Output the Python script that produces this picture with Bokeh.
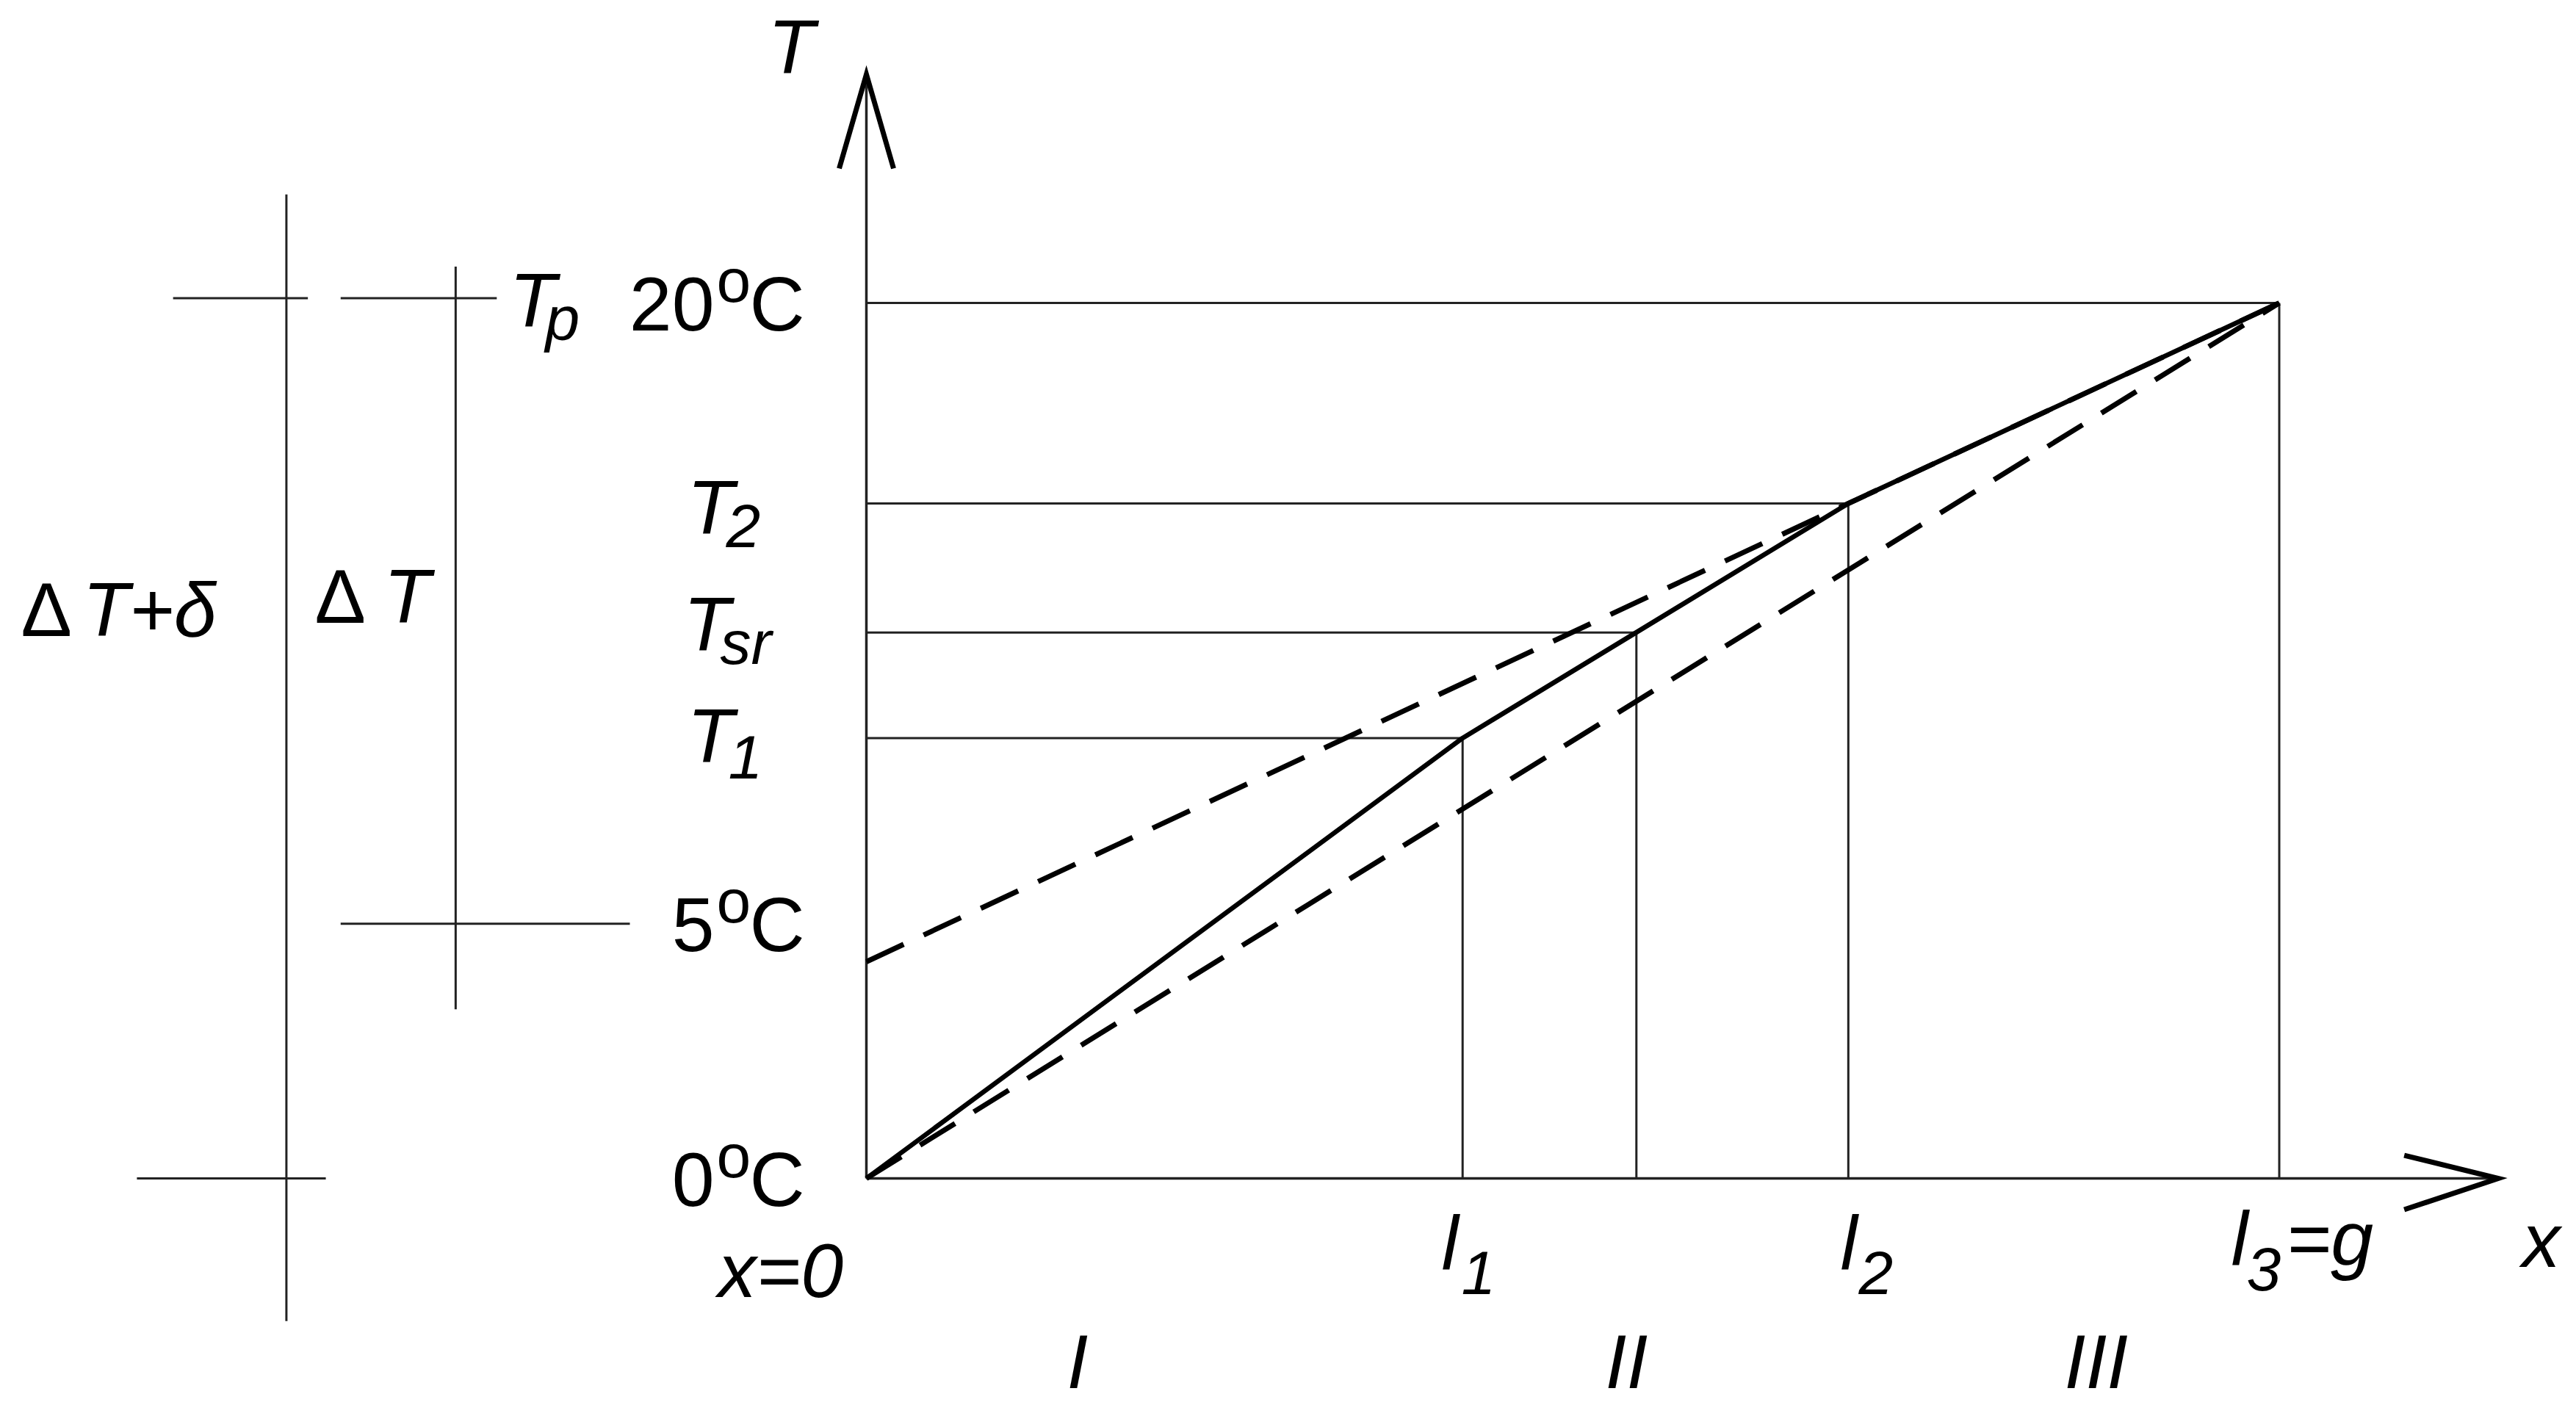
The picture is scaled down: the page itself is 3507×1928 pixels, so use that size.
from bokeh.plotting import figure
from bokeh.models import ColumnDataSource, Range1d
from bokeh.embed import file_html
from bokeh.resources import INLINE
from bokeh.core.properties import value

# ---------------- data (diagram units: x with l3 = 10, T in drawing degrees) -------------
l_names = ["l1", "lsr", "l2", "l3"]
l_pos = [4.22, 5.45, 6.95, 10.0]           # l1, x(Tsr), l2, l3=g
T_names = ["T1", "Tsr", "T2", "Tp"]
T_levels = [10.06, 12.47, 15.42, 20.0]     # T1, Tsr, T2, 20 degC

solid_x = [0.0, 4.22, 6.95, 10.0]
solid_T = [0.0, 10.06, 15.42, 20.0]
upper_x = [0.0, 6.95, 10.0]
upper_T = [4.95, 15.42, 20.0]
lower_x = [0.0, 10.0]
lower_T = [0.0, 20.0]

axis_x_end = 11.55
axis_T_end = 25.22
T_5C = 5.82

outer_x = -4.105
outer_T = [22.48, -3.26]
outer_ticks_T = [20.11, 0.0]
outer_ticks_x0 = [-4.907, -5.163]
outer_ticks_x1 = [-3.953, -3.826]
inner_x = -2.907
inner_T = [20.83, 3.865]
inner_ticks_T = [20.11, T_5C]
inner_ticks_x0 = [-3.721, -3.721]
inner_ticks_x1 = [-2.616, -1.674]

# ---------------- layout helpers (picture-pixel -> diagram units) ----------------------
OX, OY = 1179.0, 1604.0      # origin in picture pixels
SX, ST = 192.35, 59.6        # pixels per unit
W, H = 3491, 1912


def fx(X):
    return (X - OX) / SX


def fy(Y):
    return (OY - Y) / ST


def ly(T):  # picture pixel y of a diagram T value
    return OY - T * ST


p = figure(width=W, height=H, output_backend="svg", toolbar_location=None,
           x_range=Range1d(fx(0), fx(W)), y_range=Range1d(fy(H), fy(0)),
           x_axis_type=None, y_axis_type=None, min_border=0,
           outline_line_color=None, background_fill_color="white")
p.grid.visible = False

THIN = "#222222"

# reference lines
hx = [[0.0, xm] for xm in l_pos]
hy = [[tm, tm] for tm in T_levels]
vx = [[xm, xm] for xm in l_pos]
vy = [[0.0, tm] for tm in T_levels]
p.multi_line(hx + vx, hy + vy, line_color=THIN, line_width=3)

# axes
p.multi_line([[0, 0], [0, axis_x_end]], [[0, axis_T_end], [0, 0]], line_color=THIN, line_width=3.5)

# arrow heads (open V)
ah_len, ah_half = 128.0, 37.0
p.line([0 - ah_half / SX, 0, 0 + ah_half / SX],
       [axis_T_end - ah_len / ST, axis_T_end, axis_T_end - ah_len / ST],
       line_color="black", line_width=7, line_join="miter")
p.line([axis_x_end - ah_len / SX, axis_x_end, axis_x_end - ah_len / SX],
       [ah_half / ST * 0.85, 0, -ah_half / ST * 1.15],
       line_color="black", line_width=7, line_join="miter")

# left brackets
p.multi_line([[outer_x, outer_x]] + [[a, b] for a, b in zip(outer_ticks_x0, outer_ticks_x1)],
             [outer_T] + [[t, t] for t in outer_ticks_T], line_color=THIN, line_width=3)
p.multi_line([[inner_x, inner_x]] + [[a, b] for a, b in zip(inner_ticks_x0, inner_ticks_x1)],
             [inner_T] + [[t, t] for t in inner_ticks_T], line_color=THIN, line_width=3)

# curves
p.line(lower_x, lower_T, line_color="black", line_width=7, line_dash="56 30")
p.line(upper_x, upper_T, line_color="black", line_width=7, line_dash="56 30")
p.line(solid_x, solid_T, line_color="black", line_width=6.5)

# ---------------- texts ----------------
FONT = value("Liberation Sans")


def put(items, size, style="normal", align="left", font=FONT):
    # items: (left x, baseline y) in picture pixels; drawn with middle baseline
    xs = [fx(a) for a, b, t in items]
    ys = [fy(b - 0.35 * size) for a, b, t in items]
    ts = [t for a, b, t in items]
    src = ColumnDataSource(dict(x=xs, y=ys, t=ts))
    p.text("x", "y", text="t", source=src, text_font=font, text_font_size=f"{size}px",
           text_font_style=style, text_align=align, text_baseline="middle",
           text_color="black")


big_italic = [
    (1045, 100, "T"),
    (693, 445, "T"),
    (935, 727, "T"),
    (930, 886, "T"),
    (935, 1038, "T"),
    (112, 866, "T+δ"),
    (522, 848, "T"),
    (977, 1766, "x=0"),
    (1962, 1728, "l"),
    (2505, 1728, "l"),
    (3037, 1722, "l"),
    (3112, 1722, "=g"),
    (3433, 1725, "x"),
    (1452, 1890, "I"),
    (2185, 1890, "II"),
    (2810, 1890, "III"),
]
put(big_italic, 104, "italic")

sub_italic = [
    (742, 463, "p"),
    (988, 745, "2"),
    (980, 904, "sr"),
    (991, 1060, "1"),
    (1989, 1762, "1"),
    (2530, 1762, "2"),
    (3058, 1757, "3"),
]
put(sub_italic, 84, "italic")

deg_lines = [20.0, T_5C, 0.0]
deg_nums = ["20", "5", "0"]
put([(972, ly(t) + 38, s) for t, s in zip(deg_lines, deg_nums)], 104, "normal", "right")
put([(1020, ly(t) + 38, "C") for t in deg_lines], 104, "normal")
put([(975, ly(t) - 1, "o") for t in deg_lines], 84, "normal")
put([(28, 866, "Δ"), (428, 848, "Δ")], 104, "normal")

open("out.html", "w").write(file_html(p, INLINE))
